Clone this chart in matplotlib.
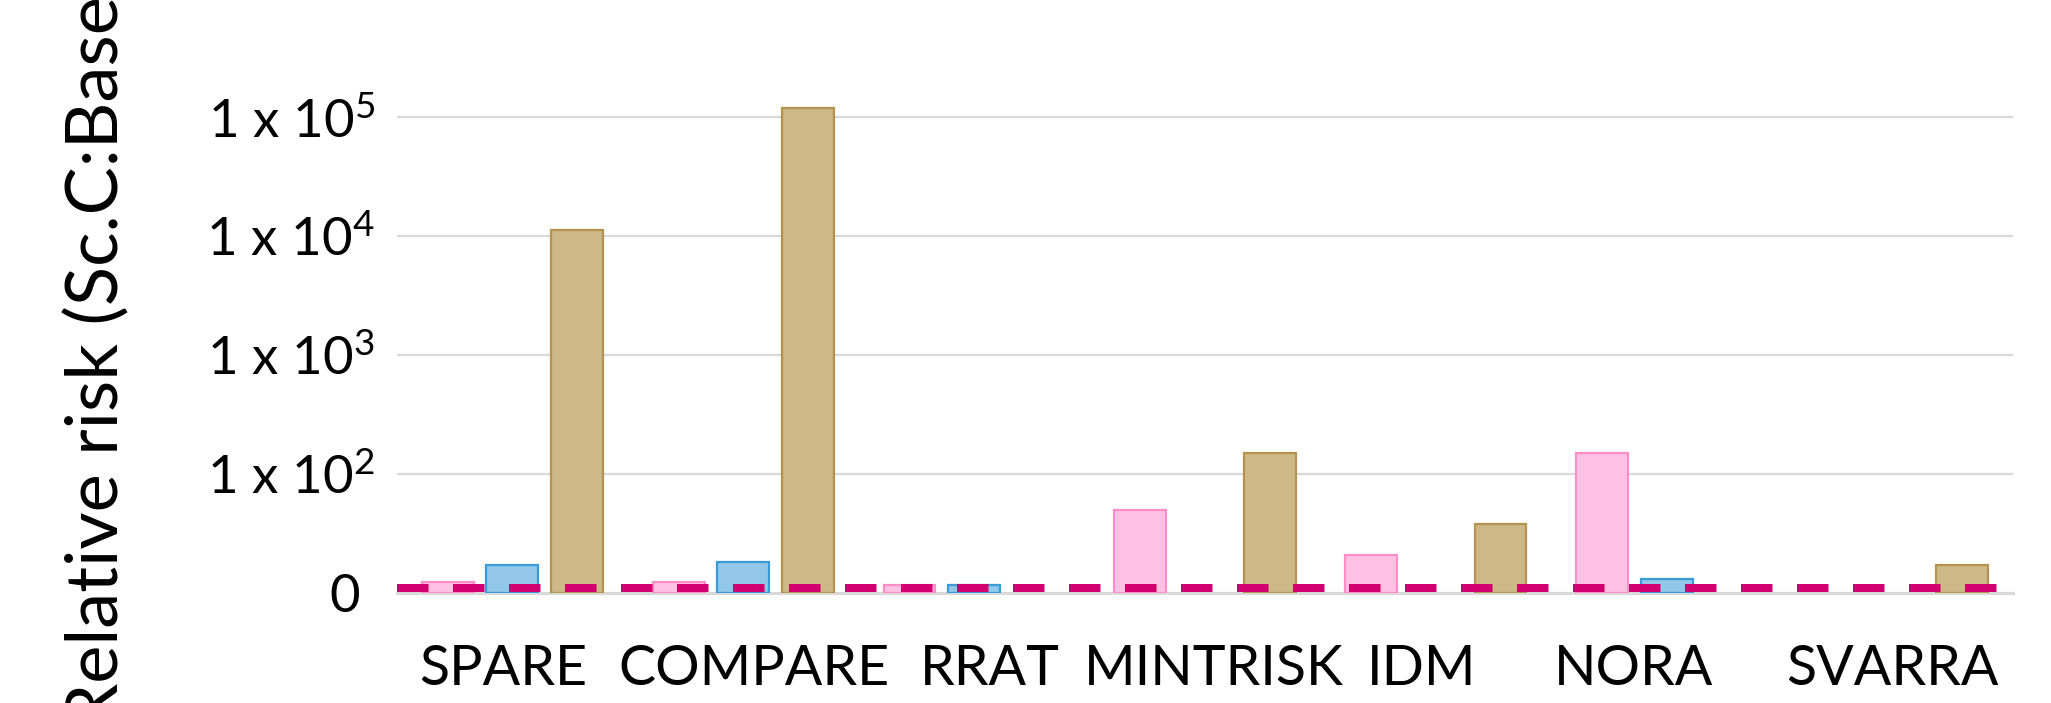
import matplotlib
matplotlib.use("Agg")
import matplotlib.pyplot as plt
import matplotlib.transforms as mtransforms
from matplotlib.ticker import NullLocator, FixedLocator, FixedFormatter
import numpy as np

# Relative risk per model and scenario (log scale)
categories = ["SPARE", "COMPARE", "RRAT", "MINTRISK", "IDM", "NORA", "SVARRA"]
pink_values = [12.2, 12.3, 11.7, 49.4, 20.9, 149.0, np.nan]
blue_values = [17.0, 18.2, 11.6, np.nan, np.nan, 13.1, np.nan]
tan_values = [11200.0, 119000.0, np.nan, 149.0, 37.6, np.nan, 17.0]
reference_level = 10.9

ytick_values = [10, 1e2, 1e3, 1e4, 1e5]
ytick_labels = ["0",
                r"$\mathregular{1\ x\ 10^{2}}$",
                r"$\mathregular{1\ x\ 10^{3}}$",
                r"$\mathregular{1\ x\ 10^{4}}$",
                r"$\mathregular{1\ x\ 10^{5}}$"]
ylabel_text = "Relative risk (Sc.C:Baseline)"

plt.rcParams["font.family"] = ["Lato", "DejaVu Sans"]
plt.rcParams["mathtext.fontset"] = "custom"
plt.rcParams["mathtext.rm"] = "Lato"
plt.rcParams["mathtext.it"] = "Lato:italic"
plt.rcParams["mathtext.bf"] = "Lato:bold"

W, H = 2051, 703
fig = plt.figure(figsize=(W / 100, H / 100), dpi=100)
ax = fig.add_axes([397 / W, 110.3 / H, (2013 - 397) / W, 534.8 / H])

ax.set_yscale("log")
ax.set_ylim(ytick_values[0], 10 ** 5.5)
ax.set_xlim(-0.5, len(categories) - 0.5)

x = np.arange(len(categories))
bar_w = 0.225
offset = 0.28
series = [
    (pink_values, -offset, "#FFC1E3", "#FF8DC8"),
    (blue_values, 0.0, "#92C7E9", "#3B9BD8"),
    (tan_values, offset, "#CEB887", "#B5924E"),
]
for vals, dx, face, edge in series:
    vals = np.asarray(vals, dtype=float)
    m = ~np.isnan(vals)
    ax.bar(x[m] + dx, vals[m] - ytick_values[0], bar_w, bottom=ytick_values[0],
           color=face, edgecolor=edge, linewidth=1.6, zorder=2)

ax.axhline(reference_level, color="#D0006F", lw=5.76,
           linestyle=(0, (3.94, 3.06)), dash_capstyle="butt", zorder=4)

# Axes styling
ax.yaxis.set_major_locator(FixedLocator(ytick_values))
ax.yaxis.set_major_formatter(FixedFormatter(ytick_labels))
ax.yaxis.set_minor_locator(NullLocator())
ax.yaxis.grid(True, color="#D9D9D9", lw=1.6)
ax.set_axisbelow(True)
for side in ["left", "right", "top"]:
    ax.spines[side].set_visible(False)
ax.spines["bottom"].set_color("#D9D9D9")
ax.spines["bottom"].set_linewidth(2.2)
ax.spines["bottom"].set_zorder(1)

ax.set_xticks(x)
ax.set_xticklabels(categories)
ax.tick_params(axis="x", length=0, pad=37, labelsize=40, colors="black")
ax.tick_params(axis="y", length=0, pad=16, labelsize=38, colors="black")

# Fine horizontal placement of the category names (pixels)
label_shift_px = [-9, 11, 16, 9, -14, -33, -5]
for tick, dxp in zip(ax.xaxis.get_major_ticks(), label_shift_px):
    lbl = tick.label1
    lbl.set_transform(lbl.get_transform() +
                      mtransforms.ScaledTranslation(dxp / 100, 0, fig.dpi_scale_trans))
zero_lbl = ax.yaxis.get_major_ticks()[0].label1
zero_lbl.set_transform(zero_lbl.get_transform() +
                       mtransforms.ScaledTranslation(-15 / 100, 0, fig.dpi_scale_trans))

# Rotated axis title, starting partly below the canvas edge
ylabel_size = 52
probe = fig.text(0, 0, "Relative risk", fontsize=ylabel_size)
fig.canvas.draw()
w_probe = probe.get_window_extent().width
probe.remove()
y_start = (H - 343) - w_probe
fig.text(118 / W, y_start / H, ylabel_text, rotation=90, rotation_mode="anchor",
         ha="left", va="baseline", fontsize=ylabel_size, color="black")

fig.savefig("out.png", dpi=100)
